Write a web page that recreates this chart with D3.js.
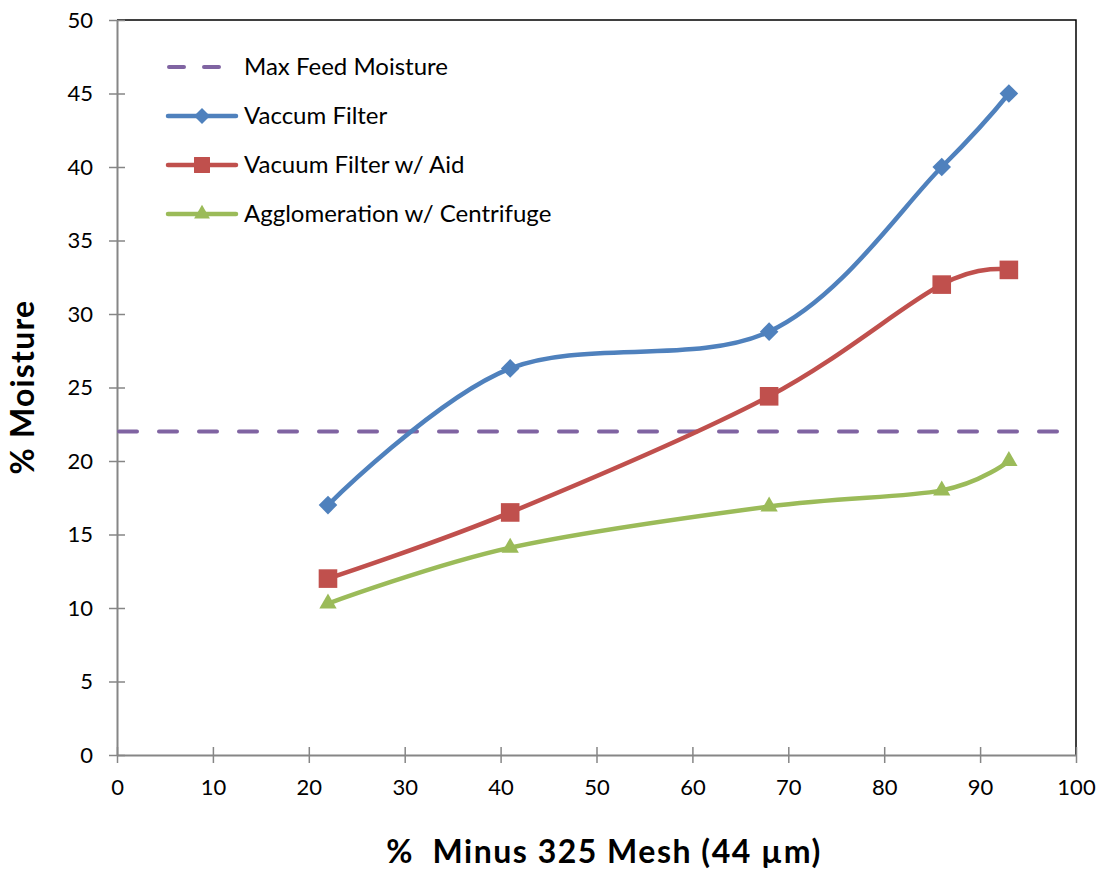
<!doctype html>
<html>
<head>
<meta charset="utf-8">
<script src="https://d3js.org/d3.v7.min.js"></script>
<style>
  body { margin: 0; background: #fff; }
  text { font-family: Lato, "Open Sans", sans-serif; fill: #000; }
</style>
</head>
<body>
<svg width="1102" height="875"></svg>
<script>
// data
var xMesh = [22, 41, 68, 86, 93];
var vacuumFilter = [17, 26.3, 28.8, 40, 45];
var vacuumFilterAid = [12, 16.5, 24.4, 32, 33];
var agglomeration = [10.3, 14.1, 16.9, 18, 20];
var maxFeedX = [0, 100];
var maxFeedY = [22, 22];
var xTicks = [0, 10, 20, 30, 40, 50, 60, 70, 80, 90, 100];
var yTicks = [0, 5, 10, 15, 20, 25, 30, 35, 40, 45, 50];

var svg = d3.select("svg");
var plotL = 117, plotR = 1076, plotT = 20, plotB = 755;

var x = d3.scaleLinear().domain([0, 100]).range([plotL, plotR]);
var y = d3.scaleLinear().domain([0, 50]).range([plotB, plotT]);

// plot border (top/right in black)
svg.append("path")
   .attr("d", "M" + plotL + "," + plotT + "H" + plotR + "V" + plotB)
   .attr("fill", "none").attr("stroke", "#000").attr("stroke-width", 1.5);

var yAxis = svg.append("g")
   .attr("transform", "translate(" + plotL + ",0)")
   .call(d3.axisLeft(y).tickValues(yTicks).tickSizeInner(8).tickSizeOuter(0).tickPadding(16));
var xAxis = svg.append("g")
   .attr("transform", "translate(0," + plotB + ")")
   .call(d3.axisBottom(x).tickValues(xTicks).tickSizeInner(8).tickSizeOuter(0).tickPadding(16));

[yAxis, xAxis].forEach(function(a) {
  a.select(".domain").attr("stroke", "#868686").attr("stroke-width", 2);
  a.selectAll(".tick line").attr("stroke", "#868686").attr("stroke-width", 1.5);
  a.selectAll(".tick text").style("font-size", "22px").attr("fill", "#000");
});
// ticks cross the axis
yAxis.selectAll(".tick line").attr("x1", 8);
xAxis.selectAll(".tick line").attr("y1", -8);

// max feed moisture line
svg.append("path")
   .datum(maxFeedX.map(function(d, i) { return [d, maxFeedY[i]]; }))
   .attr("d", d3.line().x(function(d) { return x(d[0]); }).y(function(d) { return y(d[1]); }))
   .attr("fill", "none").attr("stroke", "#8064A2").attr("stroke-width", 4)
   .attr("stroke-linecap", "round").attr("stroke-dasharray", "18,22")
   .attr("stroke-dashoffset", -2);

var series = [
  { name: "Vaccum Filter", vals: vacuumFilter, color: "#4F81BD", shape: d3.symbolDiamond2, size: 165, plotSize: 220 },
  { name: "Vacuum Filter w/ Aid", vals: vacuumFilterAid, color: "#C0504D", shape: d3.symbolSquare2, size: 324, plotSize: 441 },
  { name: "Agglomeration w/ Centrifuge", vals: agglomeration, color: "#9BBB59", shape: d3.symbolTriangle2, size: 180, plotSize: 215 }
];

var line = d3.line()
   .x(function(d) { return x(d[0]); })
   .y(function(d) { return y(d[1]); })
   .curve(d3.curveCatmullRom.alpha(0));

series.forEach(function(s) {
  var pts = xMesh.map(function(d, i) { return [d, s.vals[i]]; });
  svg.append("path").datum(pts).attr("d", line)
     .attr("fill", "none").attr("stroke", s.color).attr("stroke-width", 4.5);
  svg.selectAll(null).data(pts).enter().append("path")
     .attr("d", d3.symbol().type(s.shape).size(s.plotSize))
     .attr("transform", function(d) {
       return "translate(" + x(d[0]) + "," + y(d[1]) + ")";
     })
     .attr("fill", s.color);
});

// legend
var lg = svg.append("g");
lg.append("line").attr("x1", 169).attr("x2", 221).attr("y1", 67).attr("y2", 67)
  .attr("stroke", "#8064A2").attr("stroke-width", 4).attr("stroke-linecap", "round")
  .attr("stroke-dasharray", "15,20");
lg.append("text").attr("x", 244).attr("y", 75).style("font-size", "24px").text("Max Feed Moisture");
series.forEach(function(s, i) {
  var yy = 116 + i * 49;
  lg.append("line").attr("x1", 168).attr("x2", 236).attr("y1", yy).attr("y2", yy)
    .attr("stroke", s.color).attr("stroke-width", 4.5).attr("stroke-linecap", "round");
  lg.append("path").attr("d", d3.symbol().type(s.shape).size(s.size))
    .attr("transform", "translate(202," + yy + ")").attr("fill", s.color);
  lg.append("text").attr("x", 244).attr("y", yy + 8).style("font-size", "24px").text(s.name);
});

// axis titles
svg.append("text")
   .attr("transform", "translate(34,387) rotate(-90)")
   .attr("text-anchor", "middle").style("font-size", "32px").style("font-weight", "bold")
   .style("letter-spacing", "1.2px")
   .text("% Moisture");
svg.append("text")
   .attr("x", 604).attr("y", 863).attr("text-anchor", "middle")
   .style("font-size", "32px").style("font-weight", "bold").style("white-space", "pre")
   .style("letter-spacing", "1.5px")
   .text("%  Minus 325 Mesh (44 µm)");
</script>
</body>
</html>
